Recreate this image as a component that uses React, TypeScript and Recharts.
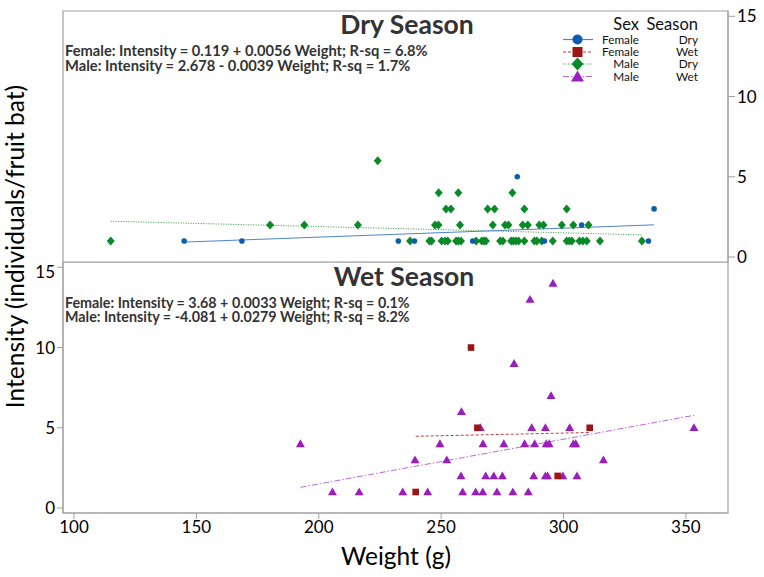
import React from 'react';
import { ScatterChart, Scatter, XAxis, YAxis, ReferenceLine, ReferenceArea } from 'recharts';

const xTicks = [100, 150, 200, 250, 300, 350];
const yTicks = [0, 5, 10, 15];
const xDomain: [number, number] = [95.5, 367.2];
const yDomain: [number, number] = [-0.31, 15.33];

// Female, Dry season
const femaleDryWeight = [145, 168.6, 232.5, 239.1, 262.9, 292.2, 307.4, 281.1, 334.7, 337];
const femaleDryIntensity = [1, 1, 1, 1, 1, 1, 2, 5, 1, 3];

// Male, Dry season
const maleDryWeight = [
  115, 237.3, 245.2, 246.1, 250.2, 251.6, 252.7, 256.1, 257.0, 258.1, 264.3, 266.6, 267.5, 268.3,
  274.1, 275.2, 278.6, 279.5, 280.5, 281.6, 284.0, 288.1, 289.1, 291.1, 295.6, 301.3, 302.4, 303.4,
  306.5, 307.9, 309.5, 314.9, 332.0,
  180.1, 194.1, 216, 247.5, 248.9, 257.7, 271.1, 276.1, 277.5, 283.3, 285.4, 290.1, 291.8, 299.3,
  304.0, 310.2,
  252.0, 254.0, 269.0, 271.8, 284.0, 301.3,
  249.0, 257.0, 279.1,
  224.1,
];
const maleDryIntensity = [
  1, 1, 1, 1, 1, 1, 1, 1, 1, 1, 1, 1, 1, 1, 1, 1, 1, 1, 1, 1, 1, 1, 1, 1, 1, 1, 1, 1, 1, 1, 1, 1, 1,
  2, 2, 2, 2, 2, 2, 2, 2, 2, 2, 2, 2, 2, 2, 2, 2,
  3, 3, 3, 3, 3, 3,
  4, 4, 4,
  6,
];

// Female, Wet season
const femaleWetWeight = [239.6, 262.2, 264.8, 297.6, 310.7];
const femaleWetIntensity = [1, 10, 5, 2, 5];

// Male, Wet season
const maleWetWeight = [
  192.5, 205.6, 216.5, 234.3, 244.5, 258.8, 264.1, 267.0, 272.8, 279.3, 285.6,
  258.1, 268.2, 271.5, 275.0, 287.8, 292.6, 293.5, 299.7, 305.5,
  239.3, 252.3, 316.3,
  249.5, 267.1, 275.6, 284.1, 288.2, 292.9, 294.1, 304.0, 305.0,
  266.0, 287.0, 292.6, 302.5, 353.3,
  258.3, 294.9, 279.8, 286.3, 295.7,
];
const maleWetIntensity = [
  4, 1, 1, 1, 1, 1, 1, 1, 1, 1, 1,
  2, 2, 2, 2, 2, 2, 2, 2, 2,
  3, 3, 3,
  4, 4, 4, 4, 4, 4, 4, 4, 4,
  5, 5, 5, 5, 5,
  6, 7, 9, 13, 14,
];

// Regression fits [intercept, slope]
const femaleDryFit = [0.119, 0.0056];
const maleDryFit = [2.678, -0.0039];
const femaleWetFit = [3.68, 0.0033];
const maleWetFit = [-4.081, 0.0279];

const dryEquations = [
  'Female: Intensity = 0.119 + 0.0056 Weight; R-sq = 6.8%',
  'Male: Intensity = 2.678 - 0.0039 Weight; R-sq = 1.7%',
];
const wetEquations = [
  'Female: Intensity = 3.68 + 0.0033 Weight; R-sq = 0.1%',
  'Male: Intensity = -4.081 + 0.0279 Weight; R-sq = 8.2%',
];

const legendSex = ['Female', 'Female', 'Male', 'Male'];
const legendSeason = ['Dry', 'Wet', 'Dry', 'Wet'];

const C_BLUE = '#0D5CAE';
const C_RED = '#9C1515';
const C_GREEN = '#0A8A26';
const C_PURPLE = '#9A1EBE';
const L_BLUE = '#4F83CF';
const L_RED = '#C0393B';
const L_GREEN = '#2E9B3A';
const L_PURPLE = '#BC66DD';

const FONT = 'Lato, "Open Sans", sans-serif';

const toData = (w: number[], v: number[]) => w.map((x, i) => ({ w: x, i: v[i] }));
const fitSegment = (w: number[], fit: number[]) => {
  const lo = Math.min(...w);
  const hi = Math.max(...w);
  return [
    { x: lo, y: fit[0] + fit[1] * lo },
    { x: hi, y: fit[0] + fit[1] * hi },
  ];
};

const CircleShape = (p: any) => <circle cx={p.cx} cy={p.cy} r={2.8} fill={C_BLUE} />;
const DiamondShape = (p: any) => (
  <polygon
    points={`${p.cx},${p.cy - 4.5} ${p.cx + 4},${p.cy} ${p.cx},${p.cy + 4.5} ${p.cx - 4},${p.cy}`}
    fill={C_GREEN}
  />
);
const SquareShape = (p: any) => <rect x={p.cx - 3.3} y={p.cy - 3.3} width={6.6} height={6.6} fill={C_RED} />;
const TriangleShape = (p: any) => (
  <polygon
    points={`${p.cx},${p.cy - 4.5} ${p.cx + 4.5},${p.cy + 3.3} ${p.cx - 4.5},${p.cy + 3.3}`}
    fill={C_PURPLE}
  />
);

const tickStyle = { fontSize: 17, fill: '#000', fontFamily: FONT };
const AXIS_GREY = '#a0a0a0';

export default function App() {
  const legendRowsY = [39.5, 52, 64, 76.5];
  const legendLines = [
    { stroke: L_BLUE, dash: undefined },
    { stroke: L_RED, dash: '3 2' },
    { stroke: L_GREEN, dash: '1 1.5' },
    { stroke: L_PURPLE, dash: '6 2 1.5 2' },
  ];
  const legendMarker = (k: number, cx: number, cy: number) => {
    if (k === 0) return <circle cx={cx} cy={cy} r={5} fill={C_BLUE} />;
    if (k === 1) return <rect x={cx - 5} y={cy - 5} width={10} height={10} fill={C_RED} />;
    if (k === 2)
      return <polygon points={`${cx},${cy - 6.5} ${cx + 6},${cy} ${cx},${cy + 6.5} ${cx - 6},${cy}`} fill={C_GREEN} />;
    return <polygon points={`${cx},${cy - 6} ${cx + 6.5},${cy + 5} ${cx - 6.5},${cy + 5}`} fill={C_PURPLE} />;
  };

  return (
    <div style={{ position: 'absolute', left: 0, top: 0, width: 764, height: 577, background: '#fff', fontFamily: FONT }}>
      <div style={{ position: 'absolute', left: 0, top: 0 }}>
        <ScatterChart width={764} height={280} margin={{ top: 11, right: 0, bottom: 18, left: 63 }}>
          <XAxis type="number" dataKey="w" domain={xDomain} ticks={xTicks} hide allowDataOverflow />
          <YAxis
            type="number"
            dataKey="i"
            orientation="right"
            width={36}
            domain={yDomain}
            ticks={yTicks}
            allowDataOverflow
            tick={tickStyle}
            tickSize={7}
            tickLine={{ stroke: AXIS_GREY }}
            axisLine={{ stroke: AXIS_GREY }}
          />
          <ReferenceArea x1={xDomain[0]} x2={xDomain[1]} y1={yDomain[0]} y2={yDomain[1]} fill="#fff" fillOpacity={0} stroke={AXIS_GREY} strokeWidth={1.2} />
          <ReferenceLine segment={fitSegment(maleDryWeight, maleDryFit)} stroke={L_GREEN} strokeDasharray="1 1.5" strokeWidth={1} />
          <ReferenceLine segment={fitSegment(femaleDryWeight, femaleDryFit)} stroke={L_BLUE} strokeWidth={1} />
          <Scatter data={toData(maleDryWeight, maleDryIntensity)} shape={DiamondShape} isAnimationActive={false} />
          <Scatter data={toData(femaleDryWeight, femaleDryIntensity)} shape={CircleShape} isAnimationActive={false} />
        </ScatterChart>
      </div>
      <div style={{ position: 'absolute', left: 0, top: 262 }}>
        <ScatterChart width={764} height={315} margin={{ top: 0, right: 36, bottom: 0, left: 0 }}>
          <XAxis
            type="number"
            dataKey="w"
            domain={xDomain}
            ticks={xTicks}
            allowDataOverflow
            height={64}
            tick={tickStyle}
            tickSize={6}
            tickLine={{ stroke: AXIS_GREY }}
            axisLine={{ stroke: AXIS_GREY }}
          />
          <YAxis
            type="number"
            dataKey="i"
            width={63}
            domain={yDomain}
            ticks={yTicks}
            allowDataOverflow
            tick={tickStyle}
            tickSize={6}
            tickLine={{ stroke: AXIS_GREY }}
            axisLine={{ stroke: AXIS_GREY }}
          />
          <ReferenceArea x1={xDomain[0]} x2={xDomain[1]} y1={yDomain[0]} y2={yDomain[1]} fill="#fff" fillOpacity={0} stroke={AXIS_GREY} strokeWidth={1.2} />
          <ReferenceLine segment={fitSegment(femaleWetWeight, femaleWetFit)} stroke={L_RED} strokeDasharray="3 2" strokeWidth={1} />
          <ReferenceLine segment={fitSegment(maleWetWeight, maleWetFit)} stroke={L_PURPLE} strokeDasharray="6 2 1.5 2" strokeWidth={1} />
          <Scatter data={toData(maleWetWeight, maleWetIntensity)} shape={TriangleShape} isAnimationActive={false} />
          <Scatter data={toData(femaleWetWeight, femaleWetIntensity)} shape={SquareShape} isAnimationActive={false} />
        </ScatterChart>
      </div>
      <svg width={764} height={577} style={{ position: 'absolute', left: 0, top: 0, pointerEvents: 'none' }}>
        <g fontFamily={FONT}>
          <text x={407} y={34} textAnchor="middle" fontSize={26.5} fontWeight="bold" fill="#333">Dry Season</text>
          {dryEquations.map((t, k) => (
            <text key={t} x={65} y={56 + k * 14.5} fontSize={14.7} fontWeight="bold" fill="#333">{t}</text>
          ))}
          <text x={404} y={286} textAnchor="middle" fontSize={26.5} fontWeight="bold" fill="#333">Wet Season</text>
          {wetEquations.map((t, k) => (
            <text key={t} x={65} y={307.5 + k * 14.5} fontSize={14.3} fontWeight="bold" fill="#333">{t}</text>
          ))}
          <text x={639} y={30} textAnchor="end" fontSize={16.5} fill="#111">Sex</text>
          <text x={698} y={30} textAnchor="end" fontSize={16.5} fill="#111">Season</text>
          {legendSex.map((s, k) => (
            <g key={k}>
              <line x1={563} x2={593} y1={legendRowsY[k]} y2={legendRowsY[k]} stroke={legendLines[k].stroke} strokeDasharray={legendLines[k].dash} strokeWidth={1.2} />
              {legendMarker(k, 577.5, legendRowsY[k])}
              <text x={639} y={legendRowsY[k] + 4} textAnchor="end" fontSize={11.8} fill="#111">{s}</text>
              <text x={698} y={legendRowsY[k] + 4} textAnchor="end" fontSize={11.8} fill="#111">{legendSeason[k]}</text>
            </g>
          ))}
          <text x={396} y={565} textAnchor="middle" fontSize={24.5} fill="#000">Weight (g)</text>
          <text transform="translate(24,246.5) rotate(-90)" textAnchor="middle" fontSize={24.5} fill="#000">Intensity (individuals/fruit bat)</text>
        </g>
      </svg>
    </div>
  );
}
